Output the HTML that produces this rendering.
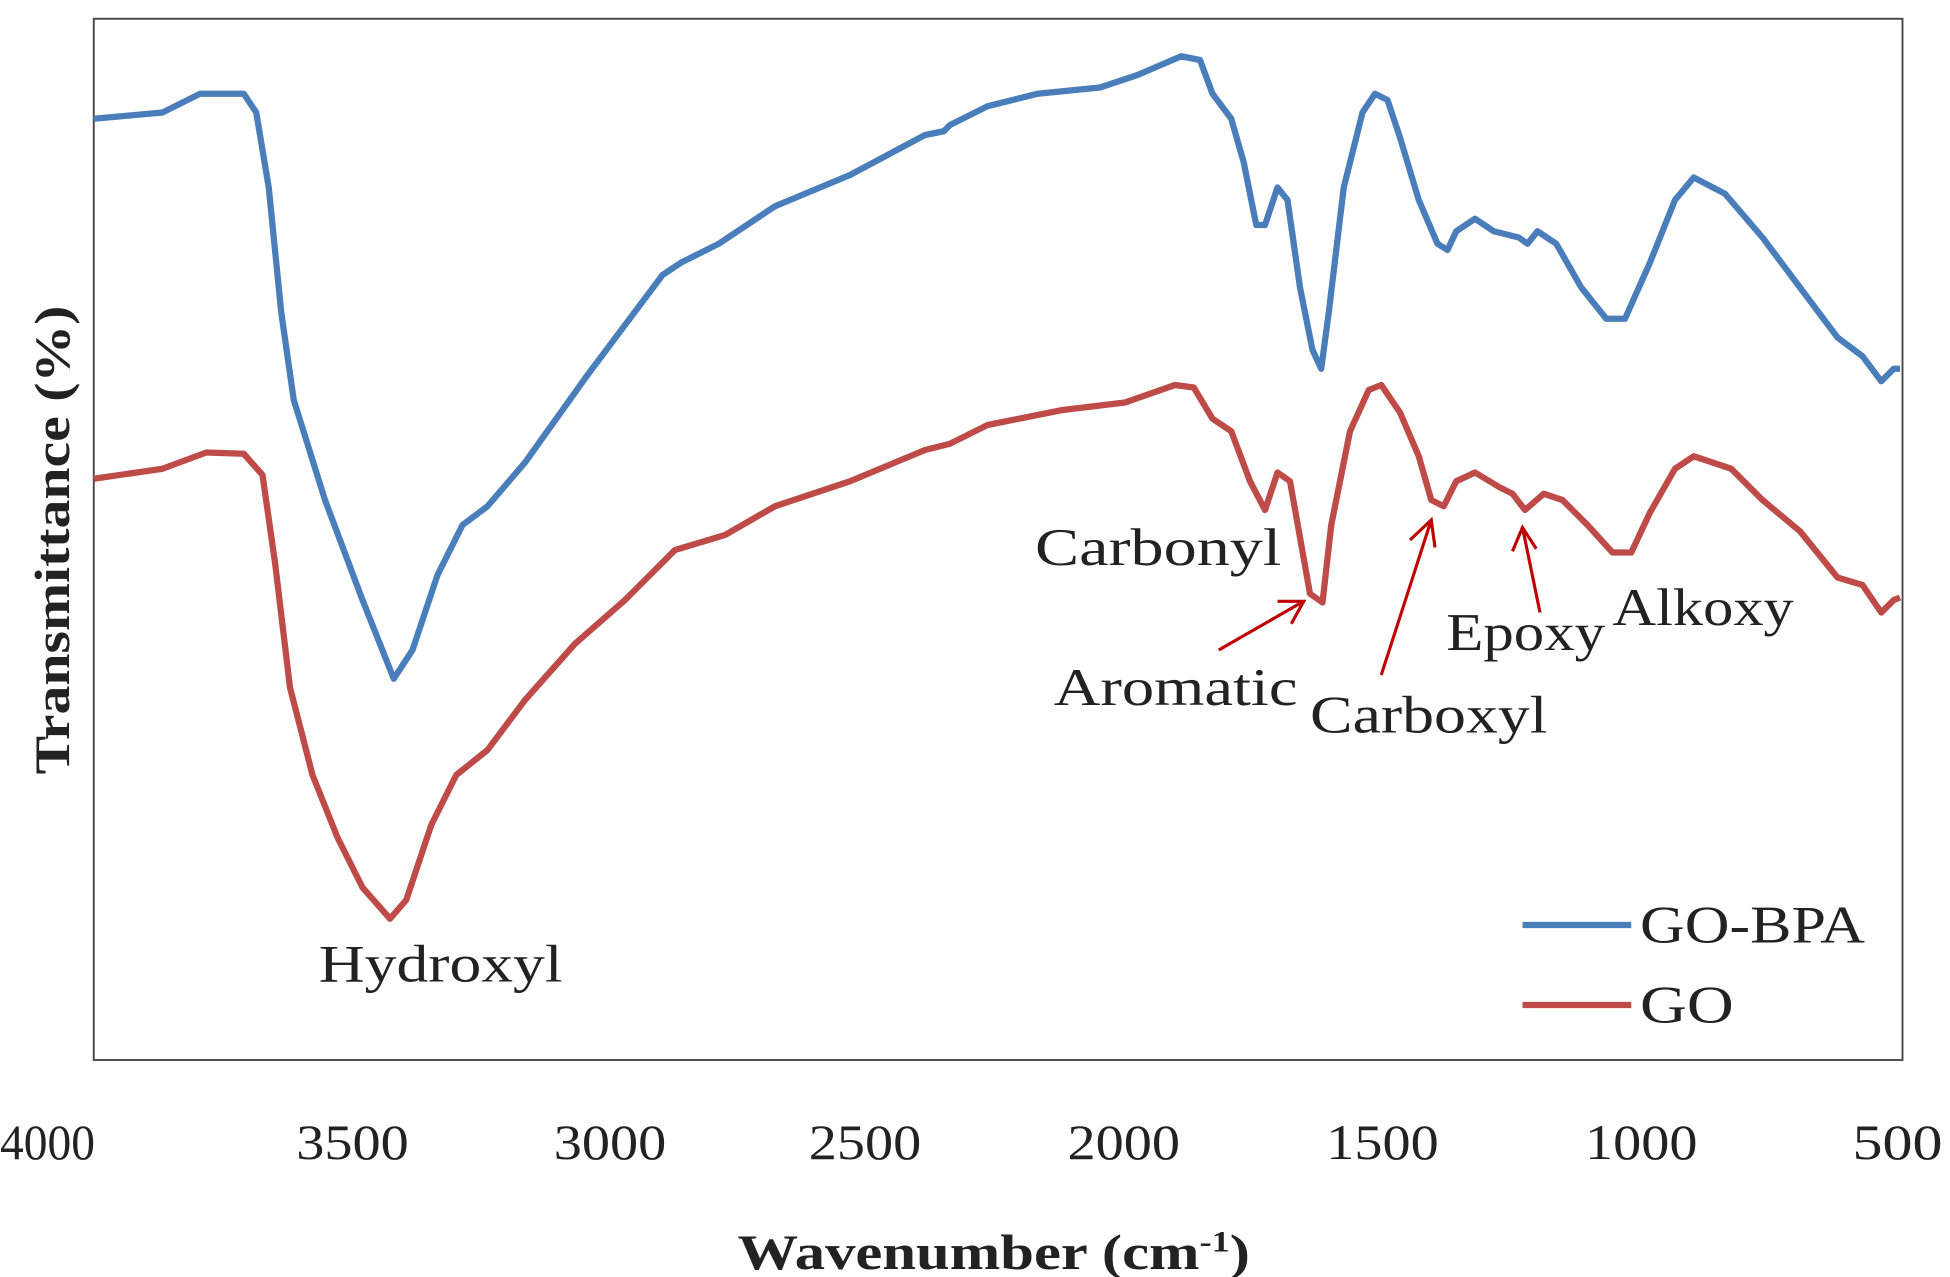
<!DOCTYPE html>
<html><head><meta charset="utf-8"><style>html,body{margin:0;padding:0;background:#fff}svg{display:block}</style></head>
<body>
<svg width="1950" height="1277" viewBox="0 0 1560 1021.6" preserveAspectRatio="none" xmlns="http://www.w3.org/2000/svg" font-family="'Liberation Serif', serif">
<rect x="75" y="15" width="1447" height="833" fill="none" stroke="#444" stroke-width="1.5"/>
<polyline fill="none" stroke="#4a7ebb" stroke-width="5" stroke-linejoin="round" points="75,95 130,90 160,75 195,75 205,90 215,150 225,250 235,320 260,400 290,480 315,543 330,520 350,460 370,420 390,405 420,370 470,300 530,220 545,210 575,195 620,165 680,140 740,108 755,105 760,100 790,85 830,75 880,70 910,60 945,45 960,48 970,75 985,95 995,130 1005,180 1012,180 1022,150 1030,160 1040,230 1050,280 1057,295 1063,250 1075,150 1090,90 1100,75 1110,80 1120,110 1135,160 1150,195 1158,200 1165,185 1180,175 1195,185 1215,190 1222,195 1230,185 1245,195 1265,230 1285,255 1300,255 1320,210 1340,160 1355,142 1380,155 1410,190 1440,230 1470,270 1490,285 1505,305 1515,295 1520,295"/>
<polyline fill="none" stroke="#be4b48" stroke-width="5" stroke-linejoin="round" points="75,383 130,375 165,362 195,363 210,380 220,450 232,550 250,620 270,670 290,710 312,735 325,720 345,660 365,620 390,600 420,560 460,515 500,480 540,440 580,428 620,405 680,385 740,360 760,355 790,340 850,328 900,322 940,308 955,310 970,335 985,345 1000,385 1012,408 1022,378 1032,385 1040,430 1048,475 1058,482 1065,420 1080,345 1095,312 1105,308 1120,330 1135,365 1145,400 1155,405 1165,385 1180,378 1200,390 1210,395 1220,408 1235,395 1250,400 1270,420 1290,442 1305,442 1320,410 1340,375 1355,365 1385,375 1410,400 1440,425 1470,462 1490,468 1505,490 1515,480 1520,478"/>
<g stroke="#c00000" stroke-width="2.5" fill="none">
<path d="M975,520 L1043,481 M1022,481 L1043,481 L1033,499"/>
<path d="M1105,540 L1145,416 M1128,432 L1145,416 L1148,438"/>
<path d="M1232,490 L1218,422 M1210,441 L1218,422 L1229,439"/>
</g>
<g font-size="42" fill="#222" lengthAdjust="spacingAndGlyphs">
<text x="255" y="785" textLength="195" lengthAdjust="spacingAndGlyphs">Hydroxyl</text>
<text x="828" y="452" textLength="197" lengthAdjust="spacingAndGlyphs">Carbonyl</text>
<text x="843" y="564" textLength="195" lengthAdjust="spacingAndGlyphs">Aromatic</text>
<text x="1048" y="586" textLength="190" lengthAdjust="spacingAndGlyphs">Carboxyl</text>
<text x="1157" y="520" textLength="127" lengthAdjust="spacingAndGlyphs">Epoxy</text>
<text x="1290" y="500" textLength="145" lengthAdjust="spacingAndGlyphs">Alkoxy</text>
<text x="1312" y="754" textLength="180" lengthAdjust="spacingAndGlyphs">GO-BPA</text>
<text x="1312" y="818" textLength="75" lengthAdjust="spacingAndGlyphs">GO</text>
</g>
<line x1="1218" y1="740" x2="1305" y2="740" stroke="#4a7ebb" stroke-width="5"/>
<line x1="1218" y1="804" x2="1305" y2="804" stroke="#be4b48" stroke-width="5"/>
<g font-size="40" fill="#222" text-anchor="middle">
<text x="38" y="927" textLength="76" lengthAdjust="spacingAndGlyphs">4000</text><text x="282" y="927" textLength="90" lengthAdjust="spacingAndGlyphs">3500</text><text x="488" y="927" textLength="90" lengthAdjust="spacingAndGlyphs">3000</text><text x="692" y="927" textLength="90" lengthAdjust="spacingAndGlyphs">2500</text><text x="899" y="927" textLength="90" lengthAdjust="spacingAndGlyphs">2000</text><text x="1106" y="927" textLength="90" lengthAdjust="spacingAndGlyphs">1500</text><text x="1313" y="927" textLength="90" lengthAdjust="spacingAndGlyphs">1000</text><text x="1518" y="927" textLength="72" lengthAdjust="spacingAndGlyphs">500</text>
</g>
<text x="590" y="1015" font-size="40" font-weight="bold" fill="#222" textLength="410" lengthAdjust="spacingAndGlyphs">Wavenumber (cm<tspan font-size="24" dy="-14">-1</tspan><tspan dy="14">)</tspan></text>
<text transform="translate(55,432) rotate(-90)" font-size="40" font-weight="bold" text-anchor="middle" fill="#222" textLength="375" lengthAdjust="spacingAndGlyphs">Transmittance (%)</text>
</svg>
</body></html>
